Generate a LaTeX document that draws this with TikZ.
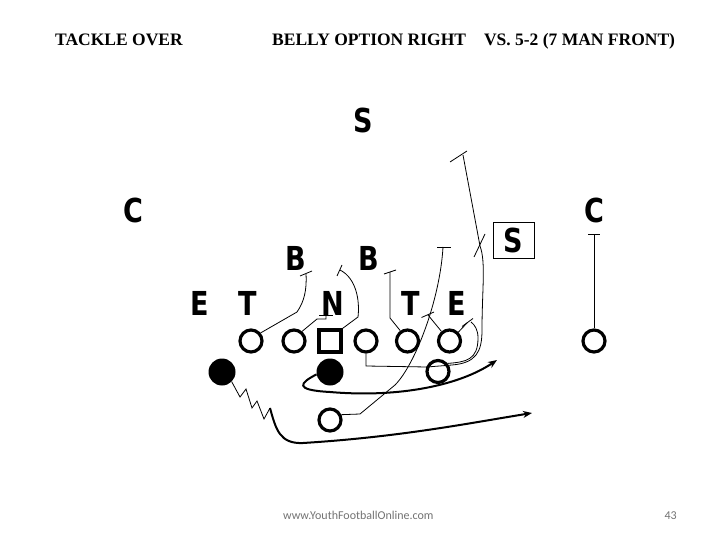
\documentclass[tikz,border=0pt]{standalone}
\usepackage{fontspec}
\setmainfont{Liberation Serif}
\newfontfamily\letterfont{DejaVu Sans}
\newfontfamily\footfont{Carlito}
\usetikzlibrary{arrows.meta}
\begin{document}
\begin{tikzpicture}[x=1pt,y=-1pt,>={Stealth[length=9pt,width=7pt]},
  lineman/.style={draw,circle,line width=3.2pt,minimum size=22pt,inner sep=0pt},
  snapper/.style={draw,rectangle,line width=3.2pt,minimum size=22pt,inner sep=0pt},
  ballback/.style={fill,circle,minimum size=27pt,inner sep=0pt},
  defender/.style={font=\letterfont\bfseries\fontsize{33}{33}\selectfont,inner sep=0pt,xscale=.82},
  route/.style={line width=.8pt},
  run/.style={line width=2pt,->}]
\fill [white] (0,0) rectangle (720,540);
\useasboundingbox (0,0) rectangle (720,540);

\node[anchor=base west,inner sep=0pt,font=\bfseries\fontsize{17.5}{20}\selectfont] (play) at (55,46) {TACKLE OVER};
\node[anchor=base west,inner sep=0pt,font=\bfseries\fontsize{17.5}{20}\selectfont] (title) at (272,46) {BELLY OPTION RIGHT\hspace{18pt}VS. 5-2 (7 MAN FRONT)};

\node[defender] (fs) at (363,120) {S};
\node[defender] (lcb) at (133,210) {C};
\node[defender] (rcb) at (594,210) {C};
\node[defender,draw,line width=.8pt,minimum width=50pt,minimum height=36pt] (ss) at (513.5,240) {S};
\node[defender] (lbl) at (296,258) {B};
\node[defender] (lbr) at (369,258) {B};
\node[defender] (dle) at (200,303.5) {E};
\node[defender] (dlt) at (248,303.5) {T};
\node[defender] (ng) at (333,303.5) {N};
\node[defender] (drt) at (411,303.5) {T};
\node[defender] (dre) at (457,303.5) {E};

\node[lineman] (olt) at (251,341) {};
\node[lineman] (olg) at (294,341) {};
\node[snapper] (oc) at (330,341) {};
\node[lineman] (org) at (366,341) {};
\node[lineman] (ort) at (407.5,341) {};
\node[lineman] (ote) at (449.5,341) {};
\node[lineman] (ose) at (594,341) {};
\node[ballback] (hb) at (222,372) {};
\node[ballback] (qb) at (330,372) {};
\node[lineman] (wb) at (438,371.5) {};
\node[lineman] (fb) at (330,420) {};

\coordinate (tlt) at (306,274);
\coordinate (tlg) at (326,315);
\coordinate (tc) at (340,270);
\coordinate (trt) at (390,272);
\coordinate (tte) at (428,315);
\coordinate (tde) at (467,323);
\coordinate (tfs) at (463,155);
\coordinate (tfb) at (443,247);
\coordinate (tse) at (594,234);
\coordinate (zz) at (270,408);
\coordinate (qbend) at (497,360);
\coordinate (hbend) at (532,413);

\draw[route] (olt.40) -- (297,312) .. controls (304,302) and (307,290) .. (tlt);
\draw[route] (300,276) -- (312,271);
\draw[route] (olg.50) -- (317,319) -- (326,319) -- (tlg);
\draw[route] (319,315) -- (333,315);
\draw[route] (oc.north east) -- (358,317) .. controls (360,300) and (356,278) .. (tc);
\draw[route] (337,276) -- (342,265);
\draw[route] (ort.125) -- (390,318) -- (trt);
\draw[route] (384,274) -- (396,270);
\draw[route] (ote.130) -- (tte);
\draw[route] (421.5,317.5) -- (434,312);
\draw[route] (ote.45) -- (tde);
\draw[route] (462,326.5) -- (473,318.5);
\draw[route] (wb.40) .. controls (466,362) and (478,360) .. (478,338) .. controls (478,330) and (475,325) .. (471,322);
\draw[route] (org.south) -- (366,366) -- (427,367) -- (452,365) .. controls (476,363) and (482,352) .. (482,330) .. controls (482,290) and (486,262) .. (480,246) -- (tfs);
\draw[route] (450,162) -- (467,151);
\draw[route] (474,257) -- (485,234);
\draw[route] (fb.25) -- (360,414) -- (395,385) .. controls (415,365) and (440,300) .. (tfb);
\draw[route] (437,247) -- (451,247);
\draw[route] (ose.north) -- (tse);
\draw[route] (588,234) -- (600,234);

\draw[run] (qb.190) .. controls (300,383) and (293,390) .. (330,392) .. controls (400,398) and (460,385) .. (qbend);
\draw[route] (hb.-45) -- (240,397) -- (246,389) -- (252,408) -- (257,401) -- (264,419) -- (zz);
\draw[run] (zz) .. controls (276,430) and (280,444) .. (303,443) .. controls (400,437) and (470,423) .. (hbend);

\node[anchor=base west,inner sep=0pt,font=\footfont\fontsize{12}{14}\selectfont,text=black!55] (site) at (283,519) {www.YouthFootballOnline.com};
\node[anchor=base east,inner sep=0pt,font=\footfont\fontsize{12}{14}\selectfont,text=black!55] (page) at (677,519) {43};
\end{tikzpicture}
\end{document}
